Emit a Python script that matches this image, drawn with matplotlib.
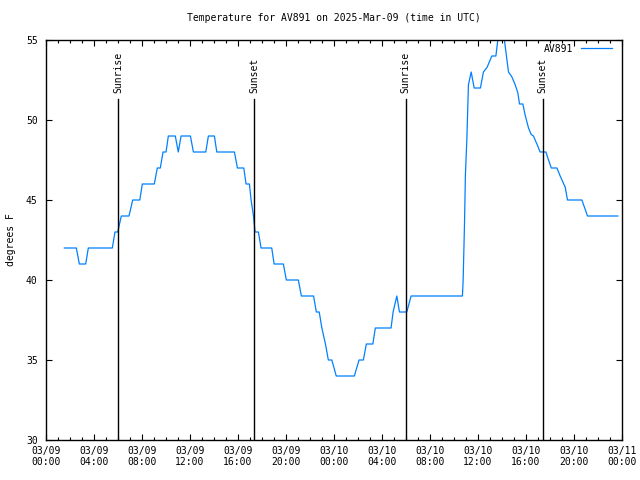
import matplotlib
matplotlib.use("Agg")
import matplotlib.pyplot as plt
import matplotlib.dates as mdates
import pandas as pd

# hours since 2025-03-09 00:00 UTC and temperature (F)
hours = [1.53, 2.53, 2.78, 3.31, 3.53, 5.53, 5.75, 5.98, 6.28, 6.92, 7.23, 7.82,
         8.03, 9.03, 9.28, 9.53, 9.76, 10.01, 10.20, 10.78, 11.03, 11.26, 12.04,
         12.29, 13.32, 13.54, 14.04, 14.24, 15.71, 15.96, 16.49, 16.68, 16.96,
         17.10, 17.30, 17.43, 17.71, 17.93, 18.82, 19.02, 19.79, 20.04, 21.04,
         21.29, 22.31, 22.54, 22.78, 23.00, 23.30, 23.54, 23.83, 24.20, 25.71,
         26.10, 26.46, 26.71, 27.25, 27.46, 28.77, 28.94, 29.25, 29.47, 30.08,
         30.44, 34.72, 34.78, 34.89, 34.97, 35.09, 35.17, 35.22, 35.45, 35.70,
         36.22, 36.47, 36.78, 37.17, 37.51, 37.67, 38.22, 38.56, 38.84, 39.12,
         39.34, 39.48, 39.76, 39.95, 40.23, 40.45, 40.64, 40.93, 41.20, 41.68,
         41.90, 42.13, 42.60, 42.87, 43.29, 43.48, 44.68, 45.15, 47.68]
temps = [42, 42, 41, 41, 42, 42, 43, 43, 44, 44, 45, 45,
         46, 46, 47, 47, 48, 48, 49, 49, 48, 49, 49,
         48, 48, 49, 49, 48, 48, 47, 47, 46, 46,
         45, 44, 43, 43, 42, 42, 41, 41, 40, 40,
         39, 39, 38, 38, 37, 36, 35, 35, 34, 34,
         35, 35, 36, 36, 37, 37, 38, 39, 38, 38,
         39, 39, 40, 43.4, 46.6, 48.8, 50.9, 52.2, 53, 52,
         52, 53, 53.3, 54, 54, 55, 55, 53, 52.7, 52.2,
         51.7, 51, 51, 50.3, 49.5, 49.1, 49, 48.5, 48, 48,
         47.5, 47, 47, 46.5, 45.8, 45, 45, 44, 44]

sun_hours = [6.03, 17.38, 30.0, 41.42]
sun_labels = ["Sunrise", "Sunset", "Sunrise", "Sunset"]

start = pd.Timestamp("2025-03-09 00:00")
times = [start + pd.Timedelta(hours=h) for h in hours]
sun_times = [start + pd.Timedelta(hours=h) for h in sun_hours]

plt.rcParams['font.family'] = ['DejaVu Sans Mono']
fs = 7

fig = plt.figure(figsize=(6.4, 4.8), dpi=100)
ax = fig.add_axes([46/640, 40/480, (621.7-46)/640, 400/480])

ax.plot(times, temps, color='#0080ff', lw=0.9, label='AV891')

for t, lab in zip(sun_times, sun_labels):
    ax.axvline(t, ymin=0, ymax=0.8525, color='black', lw=1)
    ax.text(t, 0.868, lab, transform=ax.get_xaxis_transform(), rotation=90,
            ha='center', va='bottom', fontsize=fs)

ax.set_xlim(start, start + pd.Timedelta(hours=48))
ax.set_ylim(30, 55)
ax.set_yticks([30, 35, 40, 45, 50, 55])
ax.xaxis.set_major_locator(mdates.HourLocator(byhour=[0, 4, 8, 12, 16, 20]))
ax.xaxis.set_minor_locator(mdates.HourLocator())
ax.xaxis.set_major_formatter(mdates.DateFormatter('%m/%d\n%H:%M'))

ax.tick_params(which='both', direction='in', top=True, right=True, labelsize=fs,
               width=0.8, colors='black')
ax.tick_params(which='major', length=4)
ax.tick_params(which='minor', length=2.2)
ax.tick_params(axis='x', pad=4)
ax.tick_params(axis='y', pad=6)
for s in ax.spines.values():
    s.set_linewidth(1)

ax.set_title('Temperature for AV891 on 2025-Mar-09 (time in UTC)', fontsize=fs, pad=14)
ax.set_ylabel('degrees F', fontsize=fs, labelpad=7)

leg = ax.legend(loc='upper right', frameon=False, fontsize=fs, markerfirst=False,
                handlelength=3.2, borderaxespad=0.0, bbox_to_anchor=(0.99, 1.0))

fig.savefig('out.png', dpi=100)
